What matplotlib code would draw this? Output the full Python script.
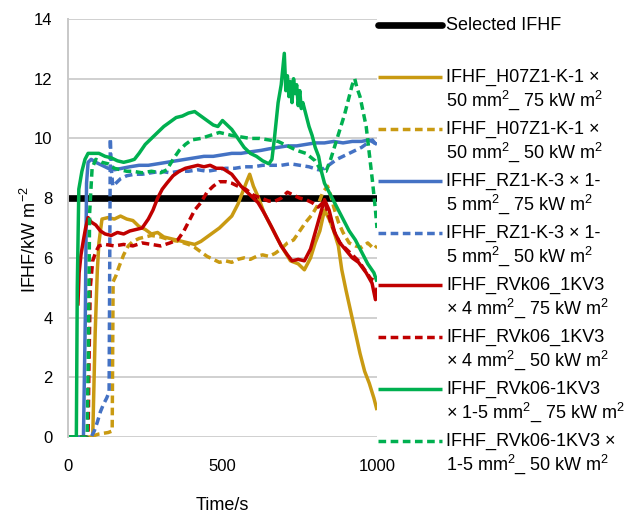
import matplotlib
matplotlib.use("Agg")
import matplotlib.pyplot as plt
from matplotlib.lines import Line2D

plt.rcParams['font.family'] = ['Liberation Sans', 'DejaVu Sans']
plt.rcParams['mathtext.fontset'] = 'custom'
plt.rcParams['mathtext.rm'] = 'Liberation Sans'
plt.rcParams['mathtext.it'] = 'Liberation Sans:italic'

# selected IFHF level
sel_t = [0, 1000]
sel_y = [8, 8]

# H07Z1-K-1 x 50 mm2, 75 kW
gold75_t = [0, 80, 88, 95, 100, 110, 130, 150, 170, 190, 210, 230, 250, 270, 290, 310, 330, 350, 370, 390,
            410, 430, 450, 470, 490, 510, 530, 550, 565, 580, 588, 600, 615, 635, 660, 690, 720, 745, 765, 785,
            800, 815, 830, 845, 860, 875, 886, 900, 915, 930, 945, 960, 975, 990, 1000]
gold75_y = [0, 0, 3.5, 5.6, 6.5, 7.3, 7.35, 7.3, 7.4, 7.3, 7.25, 7.05, 6.95, 6.8, 6.85, 6.7, 6.65, 6.6, 6.55, 6.5,
            6.45, 6.55, 6.7, 6.85, 7.0, 7.2, 7.4, 7.8, 8.2, 8.6, 8.8, 8.4, 8.05, 7.5, 7.0, 6.4, 5.9, 5.8, 5.6, 6.0,
            6.5, 6.9, 7.6, 7.3, 6.9, 6.4, 5.6, 4.9, 4.2, 3.5, 2.8, 2.2, 1.8, 1.3, 0.9]

# H07Z1-K-1 x 50 mm2, 50 kW
gold50_t = [0, 70, 100, 130, 143, 146, 155, 165, 180, 195, 210, 230, 250, 270, 300, 330, 360, 390, 410, 430,
            450, 470, 490, 510, 530, 550, 570, 590, 610, 630, 650, 670, 690, 710, 730, 750, 770, 790, 810, 825,
            840, 850, 860, 875, 890, 910, 930, 950, 970, 990, 1000]
gold50_y = [0, 0, 0.1, 0.15, 0.2, 5.2, 5.4, 5.7, 6.1, 6.4, 6.55, 6.65, 6.7, 6.75, 6.7, 6.6, 6.55, 6.45, 6.35, 6.2,
            6.05, 5.95, 5.85, 5.9, 5.85, 5.95, 6.0, 5.95, 6.05, 6.1, 6.05, 6.15, 6.3, 6.5, 6.6, 6.9, 7.2, 7.45, 7.8, 8.2,
            8.4, 8.1, 7.7, 7.2, 6.85, 6.5, 6.4, 6.35, 6.5, 6.3, 6.4]

# RZ1-K-3 x 1-5 mm2, 75 kW
blue75_t = [0, 50, 56, 60, 65, 75, 90, 110, 130, 150, 175, 200, 230, 260, 290, 320, 350, 380, 410, 440,
            470, 500, 530, 560, 590, 625, 650, 680, 710, 740, 770, 800, 830, 860, 890, 920, 950, 975, 1000]
blue75_y = [0, 0, 4, 8.5, 9.2, 9.3, 9.2, 9.1, 9.0, 8.95, 9.0, 9.05, 9.1, 9.1, 9.15, 9.2, 9.25, 9.3, 9.35, 9.4,
            9.4, 9.45, 9.5, 9.5, 9.55, 9.6, 9.65, 9.7, 9.75, 9.75, 9.8, 9.85, 9.85, 9.9, 9.85, 9.9, 9.9, 9.95, 9.8]

# RZ1-K-3 x 1-5 mm2, 50 kW
blue50_t = [0, 75, 85, 95, 105, 115, 125, 133, 137, 140, 145, 155, 170, 190, 215, 240, 270, 300, 330, 360,
            390, 420, 450, 480, 510, 540, 570, 600, 630, 660, 690, 720, 750, 780, 810, 830, 850, 870, 890, 910,
            930, 950, 970, 985, 1000]
blue50_y = [0, 0, 0.2, 0.5, 0.85, 1.1, 1.3, 1.5, 10.0, 9.0, 8.4, 8.5, 8.65, 8.75, 8.8, 8.8, 8.85, 8.9, 8.85, 8.9,
            8.9, 8.95, 8.9, 8.95, 9.0, 9.0, 9.05, 9.05, 9.1, 9.1, 9.1, 9.15, 9.1, 9.05, 8.95, 9.0, 9.15, 9.3, 9.4, 9.5,
            9.6, 9.7, 9.85, 9.95, 9.75]

# RVk06_1KV3 x 4 mm2, 75 kW
red75_t = [32, 36, 42, 50, 57, 65, 75, 90, 105, 120, 140, 160, 180, 200, 220, 240, 260, 275, 290, 305,
           320, 340, 360, 380, 400, 420, 440, 460, 480, 500, 530, 560, 590, 615, 635, 658, 675, 690, 710, 725,
           745, 765, 785, 800, 815, 830, 845, 863, 880, 896, 920, 940, 965, 984, 995, 1000]
red75_y = [4.4, 5.5, 6.1, 6.6, 7.0, 7.35, 7.2, 7.1, 6.9, 6.8, 6.75, 6.85, 6.8, 6.9, 6.95, 7.0, 7.3, 7.6, 8.0, 8.3,
           8.5, 8.75, 8.9, 9.0, 9.05, 9.1, 9.05, 9.1, 9.0, 9.0, 8.8, 8.4, 8.1, 7.85, 7.5, 7.05, 6.7, 6.4, 6.1, 5.9,
           5.95, 5.9, 6.3, 6.85, 7.4, 7.95, 7.6, 6.85, 6.5, 6.3, 6.0, 5.85, 5.5, 5.15, 4.6, 5.0]

# RVk06_1KV3 x 4 mm2, 50 kW
red50_t = [0, 60, 65, 68, 72, 80, 90, 100, 120, 150, 180, 210, 240, 270, 300, 330, 355, 375, 390, 410,
           430, 450, 470, 490, 510, 530, 550, 575, 600, 625, 650, 670, 690, 710, 730, 750, 770, 790, 810, 830,
           850, 865, 880, 900, 920, 940, 960, 980, 1000]
red50_y = [0, 0, 0.1, 2.5, 5.0, 5.9, 6.2, 6.4, 6.45, 6.4, 6.45, 6.4, 6.5, 6.45, 6.4, 6.5, 6.6, 6.9, 7.2, 7.6,
           7.85, 8.2, 8.4, 8.55, 8.55, 8.5, 8.4, 8.3, 8.1, 8.0, 7.9, 7.9, 8.0, 8.2, 8.1, 8.0, 7.95, 7.85, 7.7, 7.9,
           7.2, 6.8, 6.5, 6.3, 6.1, 5.9, 5.6, 5.3, 5.2]

# RVk06-1KV3 x 1-5 mm2, 75 kW
green75_t = [0, 27, 30, 35, 45, 55, 65, 80, 100, 120, 140, 160, 180, 200, 215, 230, 250, 270, 290, 310,
             330, 350, 370, 390, 410, 430, 450, 470, 485, 500, 515, 530, 550, 570, 590, 610, 630, 650, 660, 668,
             680, 690, 700, 705, 710, 715, 720, 725, 730, 735, 740, 745, 750, 755, 760, 770, 780, 790, 800, 811,
             820, 830, 850, 870, 890, 910, 930, 950, 970, 990, 1000]
green75_y = [0, 0, 5.0, 8.3, 8.9, 9.3, 9.5, 9.5, 9.5, 9.4, 9.35, 9.25, 9.2, 9.25, 9.3, 9.5, 9.8, 10.0, 10.2, 10.4,
             10.55, 10.7, 10.75, 10.85, 10.9, 10.75, 10.6, 10.45, 10.4, 10.6, 10.45, 10.3, 10.0, 9.7, 9.5, 9.4, 9.25, 9.15, 9.3, 10.0,
             11.2, 11.8, 12.85, 11.6, 12.1, 11.4, 11.9, 11.2, 12.0, 11.5, 11.8, 11.1, 11.6, 11.0, 11.2, 10.8, 10.4, 10.1, 9.7, 9.4,
             8.9, 8.5, 8.1, 7.7, 7.3, 6.9, 6.6, 6.2, 5.8, 5.5, 5.2]

# RVk06-1KV3 x 1-5 mm2, 50 kW
green50_t = [0, 62, 66, 70, 78, 90, 110, 130, 150, 170, 190, 210, 240, 270, 300, 320, 340, 360, 380, 400,
             430, 460, 490, 510, 530, 560, 590, 620, 650, 680, 710, 740, 770, 800, 820, 835, 850, 865, 880, 895,
             910, 920, 928, 935, 945, 955, 965, 975, 985, 995, 1000]
green50_y = [0, 0, 3.0, 7.5, 9.0, 9.3, 9.2, 9.15, 9.0, 8.95, 8.9, 8.9, 8.85, 8.9, 8.85, 8.95, 9.3, 9.6, 9.8, 9.95,
             10.0, 10.1, 10.2, 10.15, 10.1, 10.05, 10.0, 10.0, 9.95, 9.9, 9.75, 9.6, 9.5, 9.25, 8.9, 8.9, 9.3, 9.8, 10.3, 10.8,
             11.4, 11.8, 12.0, 11.7, 11.4, 10.9, 10.4, 9.5, 8.6, 7.6, 7.0]

gold = '#C99A12'
blue = '#4472C4'
red = '#C00000'
green = '#00B050'
dash = (2.2, 1.3)
lw = 2.5

series = [
    (sel_t, sel_y, 'black', '-', 4.8, 'Selected IFHF', ''),
    (gold75_t, gold75_y, gold, '-', lw, 'IFHF_H07Z1-K-1 \u00d7', '50 mm$^2$_ 75 kW m$^2$'),
    (gold50_t, gold50_y, gold, '--', lw, 'IFHF_H07Z1-K-1 \u00d7', '50 mm$^2$_ 50 kW m$^2$'),
    (blue75_t, blue75_y, blue, '-', lw, 'IFHF_RZ1-K-3 \u00d7 1-', '5 mm$^2$_ 75 kW m$^2$'),
    (blue50_t, blue50_y, blue, '--', lw, 'IFHF_RZ1-K-3 \u00d7 1-', '5 mm$^2$_ 50 kW m$^2$'),
    (red75_t, red75_y, red, '-', lw, 'IFHF_RVk06_1KV3', '\u00d7 4 mm$^2$_ 75 kW m$^2$'),
    (red50_t, red50_y, red, '--', lw, 'IFHF_RVk06_1KV3', '\u00d7 4 mm$^2$_ 50 kW m$^2$'),
    (green75_t, green75_y, green, '-', lw, 'IFHF_RVk06-1KV3', '\u00d7 1-5 mm$^2$_ 75 kW m$^2$'),
    (green50_t, green50_y, green, '--', lw, 'IFHF_RVk06-1KV3 \u00d7', '1-5 mm$^2$_ 50 kW m$^2$'),
]

W, H = 641, 515
fig = plt.figure(figsize=(W / 100, H / 100), dpi=100)
ax = fig.add_axes([68 / W, 78 / H, 309 / W, 418 / H])

for t, y, c, ls, w, l1, l2 in series:
    line, = ax.plot(t, y, color=c, lw=w, solid_capstyle='butt')
    if ls == '--':
        line.set_dashes(dash)

ax.set_xlim(0, 1000)
ax.set_ylim(0, 14)
ax.set_xticks([0, 500, 1000])
ax.set_yticks(range(0, 15, 2))
ax.tick_params(axis='both', length=0, labelsize=12)
ax.tick_params(axis='x', pad=16)
ax.tick_params(axis='y', pad=11)
ax.grid(axis='y', color='#D0D0D0', lw=1.4)
ax.set_axisbelow(True)
for s in ['top', 'right', 'bottom']:
    ax.spines[s].set_visible(False)
ax.spines['left'].set_color('#C8C8C8')
ax.spines['left'].set_linewidth(1.4)

fig.text(30 / W, 1 - 240 / H, 'IFHF/kW m$^{-2}$', rotation=90, ha='center', va='center', fontsize=13)
fig.text(222 / W, 1 - 506 / H, 'Time/s', ha='center', va='center', fontsize=13)

# legend drawn by hand so that the key sits on the first text line
y0 = 25
step = 52
for i, (t, y, c, ls, w, l1, l2) in enumerate(series):
    yy = 1 - (y0 + i * step) / H
    key = Line2D([378 / W, 442 / W], [yy, yy], transform=fig.transFigure, color=c, lw=w,
                 solid_capstyle='round' if i == 0 else 'butt')
    if ls == '--':
        key.set_dashes(dash)
    fig.add_artist(key)
    fig.text(446 / W, yy, l1, ha='left', va='center', fontsize=13)
    if l2:
        fig.text(446 / W, yy - 23 / H, l2, ha='left', va='center', fontsize=13)

fig.savefig('out.png', dpi=100)
